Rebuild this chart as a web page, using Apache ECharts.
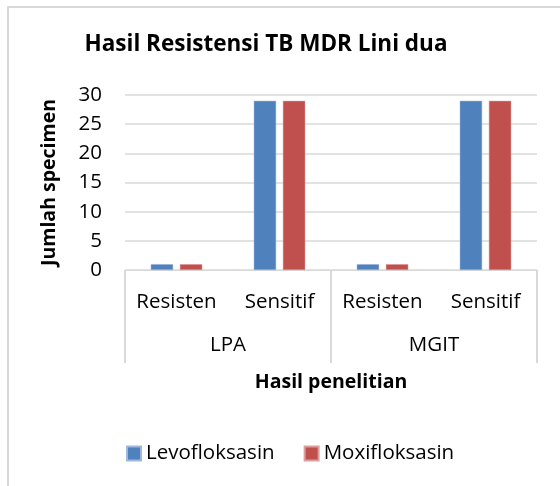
<!DOCTYPE html>
<html>
<head>
<meta charset="utf-8">
<script src="https://cdn.jsdelivr.net/npm/echarts@6/dist/echarts.min.js"></script>
<style>
html,body{margin:0;padding:0;background:#fff;overflow:hidden;}
#frame{position:absolute;left:7px;top:6px;width:700px;height:700px;border-left:2px solid #d9d9d9;border-top:2px solid #d9d9d9;}
#chart{position:absolute;left:0;top:0;width:560px;height:486px;}
</style>
</head>
<body>
<div id="frame"></div>
<div id="chart"></div>
<script>
const titleText = 'Hasil Resistensi TB MDR Lini dua';
const subCategories = ['Resisten', 'Sensitif', 'Resisten', 'Sensitif'];
const groups = ['LPA', 'MGIT'];
const seriesNames = ['Levofloksasin', 'Moxifloksasin'];
const levofloksasin = [1, 29, 1, 29];
const moxifloksasin = [1, 29, 1, 29];
const yTicks = { min: 0, max: 30, interval: 5 };
const yName = 'Jumlah specimen';
const xName = 'Hasil penelitian';

const FONT = 'Open Sans';
const FS = 20.5;
const chart = echarts.init(document.getElementById('chart'), null, { renderer: 'canvas' });
chart.setOption({
  animation: false,
  backgroundColor: 'transparent',
  textStyle: { fontFamily: FONT },
  title: {
    text: titleText,
    left: 266, top: 33, textAlign: 'center', padding: 0,
    textStyle: { fontFamily: FONT, fontWeight: 'bold', fontSize: 22.5, color: '#000' }
  },
  legend: {
    data: seriesNames,
    left: 126, top: 443, padding: 0,
    icon: 'rect', itemWidth: 14, itemHeight: 14, itemGap: 29,
    textStyle: { fontFamily: FONT, fontSize: FS, color: '#000' }
  },
  grid: { left: 125, right: 23, top: 95, bottom: 216 },
  xAxis: [
    {
      type: 'category', data: subCategories, position: 'bottom',
      axisLine: { show: true, lineStyle: { color: '#d9d9d9', width: 1 } },
      axisTick: { show: false },
      axisLabel: { interval: 0, hideOverlap: false, margin: 22, fontFamily: FONT, fontSize: FS, color: '#000' }
    },
    {
      type: 'category', data: groups, position: 'bottom',
      axisLine: { show: false },
      axisTick: { show: true, interval: 0, length: 93, lineStyle: { color: '#d9d9d9', width: 2 } },
      axisLabel: { interval: 0, margin: 65, fontFamily: FONT, fontSize: FS, color: '#000' },
      name: xName, nameLocation: 'middle', nameGap: 102,
      nameTextStyle: { fontFamily: FONT, fontWeight: 'bold', fontSize: 19.5, color: '#000' }
    }
  ],
  yAxis: {
    type: 'value', min: yTicks.min, max: yTicks.max, interval: yTicks.interval,
    axisLine: { show: false }, axisTick: { show: false },
    splitLine: { lineStyle: { color: '#d9d9d9', width: 1.5 } },
    axisLabel: { margin: 23, fontFamily: FONT, fontSize: FS, color: '#000' },
    name: yName, nameLocation: 'middle', nameGap: 66, nameRotate: 90,
    nameTextStyle: { fontFamily: FONT, fontWeight: 'bold', fontSize: 19.5, color: '#000' }
  },
  series: [
    { name: seriesNames[0], type: 'bar', xAxisIndex: 0, data: levofloksasin,
      barCategoryGap: '50%', barGap: '30%',
      itemStyle: { color: '#4F81BD', borderColor: '#9fb8dc', borderWidth: 0.5 } },
    { name: seriesNames[1], type: 'bar', xAxisIndex: 0, data: moxifloksasin,
      barCategoryGap: '50%', barGap: '30%',
      itemStyle: { color: '#C0504D', borderColor: '#dc9f9e', borderWidth: 0.5 } }
  ]
});
</script>
</body>
</html>
